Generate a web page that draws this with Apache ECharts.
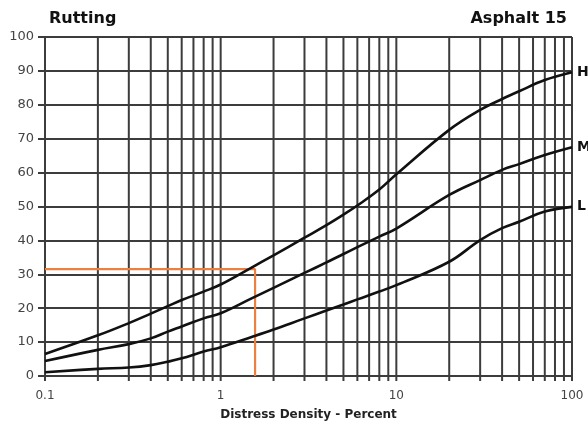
<!DOCTYPE html>
<html lang="en">
<head>
    <meta charset="utf-8">
    <title>Rutting - Asphalt 15</title>
    <script src="https://cdn.jsdelivr.net/npm/echarts@6/dist/echarts.min.js"></script>
    <style>
        html, body { margin: 0; padding: 0; background: #fff; }
        #chart { width: 588px; height: 429px; }
    </style>
</head>
<body>
<div id="chart"></div>
<script type="text/javascript">
    // distress density (percent) where curves were read
    var density = [0.1, 0.2, 0.3, 0.4, 0.5, 0.6, 0.8, 1, 1.5, 2, 3, 4, 5, 6, 8, 10, 20, 30, 40, 50, 70, 100];
    // deduct values per severity
    var high   = [6.5, 12, 15.6, 18.4, 20.6, 22.4, 24.9, 27, 32, 35.6, 40.8, 44.5, 47.6, 50.3, 55, 59.5, 72.6, 78.5, 81.7, 84, 87.3, 89.6];
    var medium = [4.4, 7.7, 9.4, 11.1, 13.1, 14.6, 17, 18.5, 22.9, 26, 30.4, 33.5, 36, 38, 41.1, 43.5, 53.4, 57.8, 60.8, 62.5, 65.2, 67.5];
    var low    = [1.1, 2.1, 2.5, 3.2, 4.2, 5.2, 7.2, 8.5, 11.5, 13.7, 17, 19.3, 21.1, 22.6, 24.9, 26.8, 33.7, 40.1, 43.6, 45.5, 48.5, 49.9];
    // example reading (orange)
    var readX = 1.57;
    var readY = 31.5;
    // log grid lines
    var gridXs = [0.1, 0.2, 0.3, 0.4, 0.5, 0.6, 0.7, 0.8, 0.9,
                  1, 2, 3, 4, 5, 6, 7, 8, 9,
                  10, 20, 30, 40, 50, 60, 70, 80, 90, 100];
    var majorLabels = [0.1, 1, 10, 100];

    function pairs(ys) {
        return density.map(function (x, i) { return [x, ys[i]]; });
    }

    var font = 'DejaVu Sans';
    var gridColor = '#3c3c3c';

    var chart = echarts.init(document.getElementById('chart'));

    function curve(name, ys) {
        return {
            name: name,
            type: 'line',
            data: pairs(ys),
            smooth: 0.4,
            symbol: 'none',
            z: 5,
            lineStyle: {color: '#111', width: 2.6},
            endLabel: {
                show: true,
                formatter: name,
                distance: 5,
                color: '#111',
                fontFamily: font,
                fontWeight: 'bold',
                fontSize: 14
            }
        };
    }

    chart.setOption({
        animation: false,
        title: [
            {text: 'Rutting', left: 44, top: 6,
             textStyle: {fontFamily: font, fontWeight: 'bold', fontSize: 16, color: '#111'}},
            {text: 'Asphalt 15', right: 16, top: 6,
             textStyle: {fontFamily: font, fontWeight: 'bold', fontSize: 16, color: '#111'}}
        ],
        grid: {left: 45, right: 16, top: 37, bottom: 53},
        xAxis: {
            type: 'log',
            logBase: 10,
            min: 0.1,
            max: 100,
            name: 'Distress Density - Percent',
            nameLocation: 'middle',
            nameGap: 33,
            nameTextStyle: {fontFamily: font, fontWeight: 'bold', fontSize: 12, color: '#222'},
            axisLine: {show: false},
            axisTick: {show: false},
            splitLine: {show: false},
            axisLabel: {
                fontFamily: font, fontSize: 12, color: '#444', margin: 14,
                formatter: function (v) {
                    var r = Math.round(v * 10) / 10;
                    return majorLabels.indexOf(r) >= 0 ? String(r) : '';
                }
            }
        },
        yAxis: {
            type: 'value',
            min: 0,
            max: 100,
            interval: 10,
            axisLine: {show: true, lineStyle: {color: gridColor, width: 2}},
            axisTick: {show: true, length: 7, lineStyle: {color: gridColor, width: 2}},
            splitLine: {show: true, lineStyle: {color: gridColor, width: 2}},
            axisLabel: {fontFamily: font, fontSize: 13, color: '#444', margin: 11}
        },
        series: [
            {
                // vertical log grid lines and their ticks below the axis
                type: 'custom',
                silent: true,
                z: 1,
                data: gridXs.map(function (v) { return [v]; }),
                encode: {x: 0},
                renderItem: function (params, api) {
                    var top = api.coord([api.value(0), 100]);
                    var bot = api.coord([api.value(0), 0]);
                    return {
                        type: 'group',
                        children: [
                            {type: 'line', shape: {x1: top[0], y1: top[1], x2: bot[0], y2: bot[1]},
                             style: {stroke: gridColor, lineWidth: 2}},
                            {type: 'line', shape: {x1: bot[0], y1: bot[1], x2: bot[0], y2: bot[1] + 5},
                             style: {stroke: gridColor, lineWidth: 2}}
                        ]
                    };
                }
            },
            {
                type: 'line',
                data: [[0.1, readY], [readX, readY], [readX, 0]],
                symbol: 'none',
                z: 4,
                lineStyle: {color: '#ec8040', width: 2.2}
            },
            curve('H', high),
            curve('M', medium),
            curve('L', low)
        ]
    });
</script>
</body>
</html>
